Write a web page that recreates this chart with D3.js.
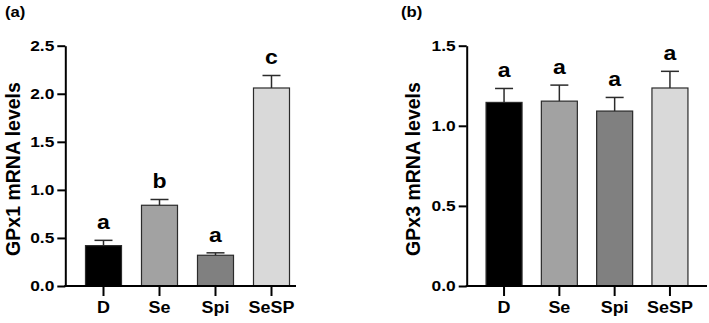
<!DOCTYPE html>
<html>
<head>
<meta charset="utf-8">
<script src="https://cdn.jsdelivr.net/npm/d3@7"></script>
<style>
  body { margin: 0; background: #fff; }
  text { font-family: "Liberation Sans", Arial, sans-serif; font-weight: bold; }
</style>
</head>
<body>
<div id="chart"></div>
<script>
const width = 709;
const height = 323;

// data
const groups = ["D", "Se", "Spi", "SeSP"];
const gpx1Mean = [0.42, 0.84, 0.32, 2.06];
const gpx1Sem = [0.055, 0.06, 0.025, 0.13];
const gpx1Sig = ["a", "b", "a", "c"];
const gpx3Mean = [1.146, 1.154, 1.092, 1.236];
const gpx3Sem = [0.087, 0.10, 0.085, 0.104];
const gpx3Sig = ["a", "a", "a", "a"];
const gpx1Ticks = [0, 0.5, 1.0, 1.5, 2.0, 2.5];
const gpx3Ticks = [0, 0.5, 1.0, 1.5];
const barColors = ["#000000", "#a2a2a2", "#808080", "#d9d9d9"];

const svg = d3.select("#chart")
  .append("svg")
  .attr("width", width)
  .attr("height", height);

// the original figure is a bit wider than normal type, stretch text to suit
function stretch(sel, k) {
  sel.each(function() {
    const w = this.getComputedTextLength();
    this.setAttribute("textLength", w * k);
    this.setAttribute("lengthAdjust", "spacingAndGlyphs");
  });
}

function panel(opt) {
  const g = svg.append("g");
  const x = d3.scaleBand().domain(groups)
    .range(opt.xRange)
    .paddingInner(opt.pad).paddingOuter(opt.pad / 2);
  const y = d3.scaleLinear().domain([0, opt.max]).range([286, 45.7]);
  const data = groups.map((d, i) => ({ g: d, m: opt.mean[i], e: opt.sem[i], s: opt.sig[i], c: barColors[i] }));

  // bars
  g.selectAll("rect.bar")
    .data(data)
    .enter()
    .append("rect")
    .attr("class", "bar")
    .attr("x", d => x(d.g))
    .attr("width", x.bandwidth())
    .attr("y", d => y(d.m))
    .attr("height", d => y(0) - y(d.m))
    .attr("fill", d => d.c)
    .attr("stroke", "#2b2b2b")
    .attr("stroke-width", 1.2);

  // error bars (upper only)
  const cx = d => x(d.g) + x.bandwidth() / 2;
  g.selectAll("line.err")
    .data(data)
    .enter()
    .append("line")
    .attr("x1", cx).attr("x2", cx)
    .attr("y1", d => y(d.m)).attr("y2", d => y(d.m + d.e))
    .attr("stroke", "#2b2b2b").attr("stroke-width", 1.5);
  g.selectAll("line.cap")
    .data(data)
    .enter()
    .append("line")
    .attr("x1", d => cx(d) - 9).attr("x2", d => cx(d) + 9)
    .attr("y1", d => y(d.m + d.e)).attr("y2", d => y(d.m + d.e))
    .attr("stroke", "#2b2b2b").attr("stroke-width", 1.5);

  // significance letters
  g.selectAll("text.sig")
    .data(data)
    .enter()
    .append("text")
    .attr("x", cx)
    .attr("y", d => y(d.m + d.e) - 11)
    .attr("text-anchor", "middle")
    .style("font-size", "20px")
    .text(d => d.s)
    .call(stretch, 1.15);

  // y axis
  const yAxis = g.append("g")
    .attr("transform", "translate(" + opt.axisX + ",0)")
    .call(d3.axisLeft(y).tickValues(opt.ticks).tickFormat(d3.format(".1f"))
      .tickSize(8).tickSizeOuter(0).tickPadding(3));
  yAxis.select(".domain").attr("stroke-width", 2);
  yAxis.selectAll(".tick line").attr("stroke-width", 2);
  yAxis.selectAll("text")
    .style("font-size", "15.5px")
    .attr("fill", "#000")
    .call(stretch, 1.12);

  // x axis
  const xAxis = g.append("g")
    .attr("transform", "translate(0,286)")
    .call(d3.axisBottom(x).tickSize(10).tickPadding(6));
  xAxis.select(".domain").remove();
  xAxis.append("line")
    .attr("x1", opt.axisX - 1).attr("x2", opt.axisEnd)
    .attr("stroke", "#000").attr("stroke-width", 2);
  xAxis.selectAll(".tick line").attr("stroke-width", 2);
  xAxis.selectAll("text")
    .style("font-size", "16px")
    .attr("fill", "#000")
    .call(stretch, 1.12);

  // y label
  g.append("text")
    .attr("transform", "translate(" + opt.labelX + ",169) rotate(-90)")
    .attr("text-anchor", "middle")
    .style("font-size", "19.5px")
    .text(opt.label);

  // panel letter
  g.append("text")
    .attr("x", opt.tagX)
    .attr("y", 17)
    .style("font-size", "14.5px")
    .text(opt.tag)
    .call(stretch, 1.15);
}

panel({
  mean: gpx1Mean, sem: gpx1Sem, sig: gpx1Sig, ticks: gpx1Ticks, max: 2.5,
  xRange: [75.5, 299.5], pad: 0.357, axisX: 65.3, axisEnd: 296,
  label: "GPx1 mRNA levels", labelX: 19.5, tag: "(a)", tagX: 5
});

panel({
  mean: gpx3Mean, sem: gpx3Sem, sig: gpx3Sig, ticks: gpx3Ticks, max: 1.5,
  xRange: [476.4, 697.6], pad: 0.349, axisX: 466.7, axisEnd: 707,
  label: "GPx3 mRNA levels", labelX: 420, tag: "(b)", tagX: 401
});
</script>
</body>
</html>
